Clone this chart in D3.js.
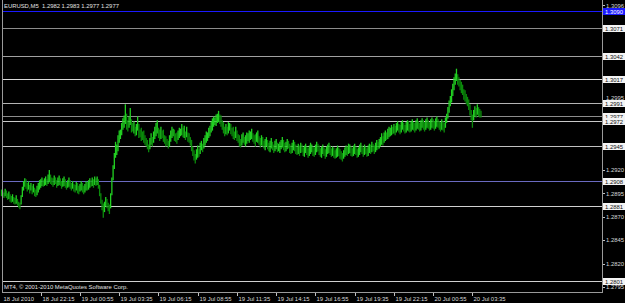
<!DOCTYPE html>
<html>
<head>
<meta charset="utf-8">
<script src="https://cdn.jsdelivr.net/npm/d3@7"></script>
<style>
  html, body { margin: 0; padding: 0; background: #000; }
  svg { display: block; }
  text { font-family: "Liberation Sans", Arial, sans-serif; }
</style>
</head>
<body>
<div id="chart"></div>
<script>
// EURUSD M5 bars, 18 Jul 19:35 .. 20 Jul 04:10
const highs = [
  1.2899,1.2898,1.2896,1.2900,1.2898,1.2895,1.2897,1.2894,1.2892,1.2894,
  1.2891,1.2890,1.2893,1.2889,1.2886,1.2885,1.2893,1.2902,1.2908,1.2911,
  1.2910,1.2906,1.2908,1.2904,1.2906,1.2903,1.2905,1.2901,1.2899,1.2903,
  1.2906,1.2909,1.2910,1.2912,1.2909,1.2911,1.2913,1.2910,1.2915,1.2920,
  1.2915,1.2912,1.2911,1.2914,1.2912,1.2909,1.2912,1.2914,1.2911,1.2908,
  1.2911,1.2913,1.2910,1.2907,1.2909,1.2912,1.2909,1.2906,1.2908,1.2905,
  1.2904,1.2907,1.2906,1.2903,1.2905,1.2908,1.2906,1.2903,1.2905,1.2908,
  1.2907,1.2909,1.2911,1.2909,1.2912,1.2910,1.2913,1.2911,1.2913,1.2910,
  1.2904,1.2895,1.2888,1.2884,1.2886,1.2891,1.2889,1.2885,1.2883,1.2895,
  1.2912,1.2925,1.2938,1.2950,1.2947,1.2957,1.2962,1.2963,1.2970,1.2975,
  1.2978,1.2990,1.2980,1.2973,1.2977,1.2986,1.2974,1.2970,1.2972,1.2966,
  1.2969,1.2977,1.2969,1.2963,1.2965,1.2961,1.2962,1.2957,1.2954,1.2952,
  1.2947,1.2954,1.2959,1.2955,1.2961,1.2966,1.2970,1.2973,1.2965,1.2963,
  1.2966,1.2962,1.2963,1.2957,1.2956,1.2953,1.2951,1.2957,1.2962,1.2966,
  1.2964,1.2963,1.2959,1.2960,1.2962,1.2965,1.2964,1.2969,1.2965,1.2967,
  1.2961,1.2966,1.2960,1.2959,1.2955,1.2952,1.2945,1.2941,1.2937,1.2942,
  1.2946,1.2942,1.2949,1.2951,1.2948,1.2954,1.2957,1.2961,1.2960,1.2965,
  1.2967,1.2972,1.2975,1.2977,1.2976,1.2979,1.2980,1.2983,1.2979,1.2978,
  1.2973,1.2971,1.2966,1.2969,1.2966,1.2971,1.2970,1.2969,1.2965,1.2966,
  1.2961,1.2966,1.2962,1.2958,1.2957,1.2953,1.2958,1.2960,1.2955,1.2957,
  1.2960,1.2959,1.2962,1.2961,1.2964,1.2959,1.2957,1.2958,1.2960,1.2962,
  1.2956,1.2954,1.2957,1.2955,1.2951,1.2953,1.2955,1.2952,1.2949,1.2951,
  1.2954,1.2950,1.2947,1.2951,1.2953,1.2949,1.2948,1.2950,1.2952,1.2955,
  1.2952,1.2949,1.2950,1.2953,1.2951,1.2948,1.2946,1.2949,1.2952,1.2950,
  1.2947,1.2945,1.2948,1.2946,1.2949,1.2947,1.2944,1.2946,1.2948,1.2945,
  1.2943,1.2946,1.2949,1.2947,1.2945,1.2944,1.2947,1.2950,1.2948,1.2946,
  1.2943,1.2945,1.2947,1.2944,1.2942,1.2945,1.2947,1.2949,1.2946,1.2943,
  1.2945,1.2944,1.2941,1.2943,1.2946,1.2944,1.2942,1.2940,1.2938,1.2941,
  1.2944,1.2946,1.2945,1.2948,1.2947,1.2945,1.2943,1.2946,1.2948,1.2945,
  1.2942,1.2944,1.2947,1.2949,1.2946,1.2944,1.2947,1.2945,1.2943,1.2946,
  1.2948,1.2947,1.2950,1.2948,1.2946,1.2949,1.2952,1.2950,1.2953,1.2955,
  1.2959,1.2956,1.2960,1.2962,1.2960,1.2964,1.2966,1.2965,1.2968,1.2966,
  1.2969,1.2967,1.2970,1.2972,1.2969,1.2968,1.2971,1.2973,1.2970,1.2968,
  1.2971,1.2973,1.2972,1.2969,1.2972,1.2974,1.2971,1.2970,1.2973,1.2975,
  1.2972,1.2970,1.2973,1.2975,1.2973,1.2971,1.2974,1.2976,1.2973,1.2971,
  1.2974,1.2976,1.2974,1.2972,1.2975,1.2977,1.2974,1.2972,1.2971,1.2974,
  1.2972,1.2970,1.2976,1.2980,1.2987,1.2994,1.2999,1.3006,1.3012,1.3019,
  1.3023,1.3028,1.3022,1.3019,1.3016,1.3014,1.3011,1.3006,1.3005,1.3001,
  1.2998,1.2995,1.2990,1.2984,1.2979,1.2984,1.2988,1.2986,1.2990,1.2987,
  1.2985,1.2983
];
const lows = [
  1.2893,1.2892,1.2891,1.2893,1.2891,1.2889,1.2890,1.2887,1.2886,1.2887,
  1.2885,1.2884,1.2885,1.2883,1.2881,1.2879,1.2884,1.2892,1.2899,1.2903,
  1.2901,1.2898,1.2900,1.2896,1.2899,1.2895,1.2897,1.2893,1.2892,1.2894,
  1.2897,1.2900,1.2902,1.2904,1.2903,1.2904,1.2905,1.2904,1.2906,1.2908,
  1.2906,1.2905,1.2903,1.2905,1.2906,1.2902,1.2904,1.2905,1.2904,1.2901,
  1.2903,1.2904,1.2902,1.2900,1.2902,1.2903,1.2901,1.2899,1.2901,1.2898,
  1.2897,1.2899,1.2896,1.2895,1.2898,1.2899,1.2897,1.2895,1.2897,1.2899,
  1.2899,1.2900,1.2902,1.2903,1.2904,1.2902,1.2905,1.2904,1.2905,1.2901,
  1.2893,1.2885,1.2878,1.2870,1.2876,1.2882,1.2880,1.2877,1.2874,1.2880,
  1.2894,1.2910,1.2922,1.2934,1.2937,1.2941,1.2950,1.2954,1.2958,1.2964,
  1.2966,1.2970,1.2964,1.2962,1.2966,1.2969,1.2961,1.2962,1.2960,1.2957,
  1.2958,1.2963,1.2955,1.2956,1.2952,1.2953,1.2950,1.2948,1.2946,1.2943,
  1.2940,1.2943,1.2948,1.2946,1.2950,1.2954,1.2957,1.2960,1.2955,1.2952,
  1.2954,1.2955,1.2951,1.2949,1.2946,1.2947,1.2944,1.2946,1.2951,1.2955,
  1.2957,1.2952,1.2951,1.2949,1.2953,1.2955,1.2957,1.2958,1.2956,1.2955,
  1.2953,1.2956,1.2951,1.2950,1.2947,1.2941,1.2936,1.2931,1.2928,1.2932,
  1.2934,1.2935,1.2938,1.2942,1.2940,1.2944,1.2947,1.2950,1.2952,1.2955,
  1.2957,1.2961,1.2963,1.2967,1.2969,1.2968,1.2971,1.2972,1.2970,1.2967,
  1.2964,1.2960,1.2957,1.2959,1.2958,1.2960,1.2963,1.2959,1.2957,1.2954,
  1.2953,1.2955,1.2952,1.2950,1.2946,1.2945,1.2947,1.2950,1.2948,1.2946,
  1.2949,1.2952,1.2950,1.2953,1.2954,1.2951,1.2949,1.2946,1.2951,1.2950,
  1.2948,1.2945,1.2947,1.2946,1.2944,1.2942,1.2946,1.2943,1.2941,1.2940,
  1.2944,1.2942,1.2939,1.2941,1.2943,1.2940,1.2941,1.2939,1.2943,1.2945,
  1.2942,1.2940,1.2941,1.2943,1.2944,1.2939,1.2938,1.2939,1.2942,1.2941,
  1.2938,1.2937,1.2938,1.2936,1.2939,1.2940,1.2936,1.2935,1.2939,1.2937,
  1.2934,1.2936,1.2938,1.2940,1.2936,1.2935,1.2937,1.2940,1.2941,1.2937,
  1.2935,1.2934,1.2938,1.2936,1.2933,1.2935,1.2938,1.2939,1.2937,1.2935,
  1.2936,1.2934,1.2933,1.2934,1.2935,1.2936,1.2933,1.2932,1.2930,1.2933,
  1.2935,1.2937,1.2936,1.2938,1.2939,1.2936,1.2935,1.2936,1.2938,1.2937,
  1.2934,1.2935,1.2937,1.2940,1.2938,1.2935,1.2937,1.2938,1.2935,1.2936,
  1.2939,1.2938,1.2940,1.2941,1.2938,1.2940,1.2942,1.2943,1.2944,1.2946,
  1.2948,1.2947,1.2950,1.2952,1.2953,1.2954,1.2956,1.2957,1.2958,1.2959,
  1.2960,1.2958,1.2961,1.2963,1.2961,1.2959,1.2961,1.2964,1.2962,1.2960,
  1.2961,1.2963,1.2962,1.2961,1.2962,1.2964,1.2963,1.2961,1.2963,1.2965,
  1.2964,1.2962,1.2963,1.2966,1.2964,1.2962,1.2964,1.2966,1.2965,1.2963,
  1.2964,1.2966,1.2965,1.2963,1.2965,1.2967,1.2966,1.2964,1.2962,1.2964,
  1.2963,1.2961,1.2966,1.2971,1.2976,1.2982,1.2989,1.2993,1.3000,1.3006,
  1.3012,1.3016,1.3012,1.3010,1.3006,1.3003,1.3001,1.2996,1.2994,1.2991,
  1.2989,1.2985,1.2979,1.2974,1.2966,1.2974,1.2978,1.2977,1.2980,1.2978,
  1.2977,1.2977
];

const symbolInfo = "EURUSD,M5  1.2982 1.2983 1.2977 1.2977";
const copyright = "MT4, \u00a9 2001-2010 MetaQuotes Software Corp.";

// price axis
const priceTop = 1.3096;
const priceBottom = 1.2795;
const priceTicks = [1.3096, 1.2995, 1.2920, 1.2895, 1.2870, 1.2845, 1.2820, 1.2795];

// horizontal lines drawn on the chart
const levels = [1.3090, 1.3071, 1.3042, 1.3017, 1.2991, 1.2977, 1.2972, 1.2945, 1.2908, 1.2881, 1.2801];

// time axis: one label every 32 bars
const timeTickIndex = [0, 32, 64, 96, 128, 160, 192, 224, 256, 288, 320, 352, 384];
const timeLabels = ["18 Jul 2010", "18 Jul 22:15", "19 Jul 00:55", "19 Jul 03:35", "19 Jul 06:15",
  "19 Jul 08:55", "19 Jul 11:35", "19 Jul 14:15", "19 Jul 16:55", "19 Jul 19:35",
  "19 Jul 22:15", "20 Jul 00:55", "20 Jul 03:35"];

const levelColors = ["#1a1aff", "#8c8c8c", "#a0a0a0", "#d8d8d8", "#b4b4b4", "#8c8c8c",
  "#c8c8c8", "#c0c0c0", "#6a6ac0", "#d0d0d0", "#d0d0d0"];

const width = 625, height = 303;
const plotLeft = 2, plotRight = 602, plotBottom = 292;

const svg = d3.select("#chart").append("svg")
  .attr("width", width).attr("height", height)
  .style("background", "#000");

const y = d3.scaleLinear().domain([priceBottom, priceTop]).range([287, 5]);
const x = d3.scaleLinear().domain([0, 391]).range([1.5, 481]);

// horizontal levels
svg.append("g").selectAll("line").data(levels).enter().append("line")
  .attr("x1", plotLeft).attr("x2", plotRight)
  .attr("y1", d => Math.round(y(d)) + 0.5).attr("y2", d => Math.round(y(d)) + 0.5)
  .attr("stroke", (d, i) => levelColors[i])
  .attr("stroke-width", 1);

// bars
const bars = highs.map((h, i) => ({ i: i, h: h, l: lows[i] }));
svg.append("g").selectAll("line").data(bars).enter().append("line")
  .attr("x1", d => x(d.i)).attr("x2", d => x(d.i))
  .attr("y1", d => y(d.h)).attr("y2", d => y(d.l) + 1)
  .attr("stroke", (d, i) => {
    if (i === 0) return "#10b010";
    const prev = (highs[i - 1] + lows[i - 1]) / 2;
    return (d.h + d.l) / 2 >= prev ? "#22d022" : "#0b8a0b";
  })
  .attr("stroke-width", 1.3);

// frame
const frame = svg.append("g").attr("stroke", "#9a9a9a").attr("stroke-width", 1);
frame.append("line").attr("x1", plotLeft + 0.5).attr("x2", plotLeft + 0.5).attr("y1", 0).attr("y2", plotBottom + 0.5);
frame.append("line").attr("x1", plotRight + 0.5).attr("x2", plotRight + 0.5).attr("y1", 0).attr("y2", plotBottom + 1);
frame.append("line").attr("x1", plotLeft).attr("x2", plotRight + 1).attr("y1", plotBottom + 0.5).attr("y2", plotBottom + 0.5);

// price axis ticks; a label sitting just above a level box is nudged up
const tickLabelY = d => {
  const near = levels.find(l => l < d && y(l) - y(d) < 7);
  return near ? Math.round(y(near)) - 3.2 : y(d) + 2.2;
};
const pAxis = svg.append("g");
pAxis.selectAll("line").data(priceTicks).enter().append("line")
  .attr("x1", plotRight + 1).attr("x2", plotRight + 3)
  .attr("y1", d => Math.round(y(d)) + 0.5).attr("y2", d => Math.round(y(d)) + 0.5)
  .attr("stroke", "#c0c0c0");
pAxis.selectAll("text").data(priceTicks).enter().append("text")
  .attr("x", plotRight + 4).attr("y", tickLabelY)
  .attr("fill", "#d8d8d8").attr("font-size", "5.9px")
  .text(d => d.toFixed(4));

// level price boxes
const boxes = svg.append("g").selectAll("g").data(levels).enter().append("g")
  .attr("transform", d => `translate(${plotRight + 1},${Math.round(y(d)) - 3})`);
boxes.append("rect").attr("width", 22).attr("height", 7)
  .attr("fill", (d, i) => i === 0 ? "#1a1aff" : "#f4f4f4");
boxes.append("text").attr("x", 2).attr("y", 5.6)
  .attr("font-size", "5.9px")
  .attr("fill", (d, i) => i === 0 ? "#ffffff" : "#111")
  .text(d => d.toFixed(4));

// time axis
const tAxis = svg.append("g");
tAxis.selectAll("line").data(timeTickIndex.slice(1)).enter().append("line")
  .attr("x1", d => Math.round(x(d)) + 0.5).attr("x2", d => Math.round(x(d)) + 0.5)
  .attr("y1", plotBottom + 1).attr("y2", plotBottom + 4)
  .attr("stroke", "#c0c0c0");
tAxis.selectAll("text").data(timeTickIndex).enter().append("text")
  .attr("x", d => Math.round(x(d)) + 1.5).attr("y", 300.5)
  .attr("fill", "#d8d8d8").attr("font-size", "5.9px")
  .text((d, i) => timeLabels[i]);

// header and copyright
svg.append("text").attr("x", 4).attr("y", 8).attr("fill", "#e0e0e0")
  .attr("font-size", "5.9px").attr("xml:space", "preserve").style("white-space", "pre")
  .text(symbolInfo);
svg.append("text").attr("x", 4).attr("y", 289).attr("fill", "#e0e0e0")
  .attr("font-size", "5.9px")
  .text(copyright);
</script>
</body>
</html>
